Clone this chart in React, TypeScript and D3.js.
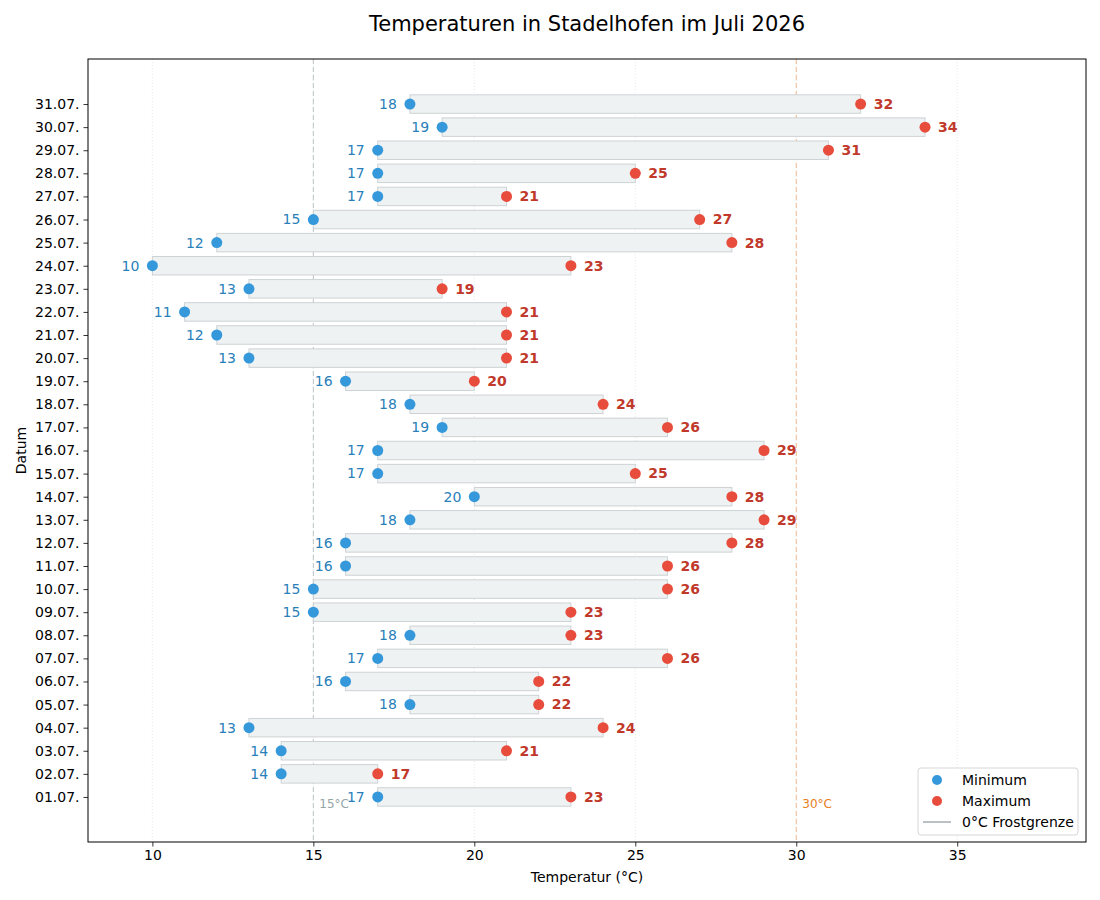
import { useEffect, useRef } from "react";
import * as d3 from "d3";

// Tageswerte Juli 2026, 01.07. bis 31.07.
const days = d3.range(1, 32).map((d) => `${String(d).padStart(2, "0")}.07.`);
const minTemps = [17, 14, 14, 13, 18, 16, 17, 18, 15, 15, 16, 16, 18, 20, 17, 17, 19, 18, 16, 13, 12, 11, 13, 10, 12, 15, 17, 17, 17, 19, 18];
const maxTemps = [23, 17, 21, 24, 22, 22, 26, 23, 23, 26, 26, 28, 29, 28, 25, 29, 26, 24, 20, 21, 21, 21, 19, 23, 28, 27, 21, 25, 31, 34, 32];
const xTicks = [10, 15, 20, 25, 30, 35];
const refLines = [
  { value: 15, label: "15°C", line: "#bdc3c7", text: "#95a5a6" },
  { value: 30, label: "30°C", line: "#f5b98a", text: "#e67e22" },
];
const legendItems = ["Minimum", "Maximum", "0°C Frostgrenze"];

const W = 1100;
const H = 900;
const margin = { top: 59, right: 14, bottom: 58, left: 88 };
const font = "DejaVu Sans, sans-serif";

export default function App() {
  const ref = useRef<SVGSVGElement>(null);

  useEffect(() => {
    const svg = d3.select(ref.current);
    svg.selectAll("*").remove();

    const width = W - margin.left - margin.right;
    const height = H - margin.top - margin.bottom;

    const x = d3.scaleLinear().domain([8, 39]).range([0, width]);
    const y = d3.scaleLinear().domain([-1.95, 31.95]).range([height, 0]);

    const g = svg
      .append("g")
      .attr("transform", `translate(${margin.left},${margin.top})`);

    // Grid
    g.selectAll(".grid")
      .data(xTicks)
      .enter()
      .append("line")
      .attr("x1", (d) => x(d))
      .attr("x2", (d) => x(d))
      .attr("y1", 0)
      .attr("y2", height)
      .attr("stroke", "#e3e3e3")
      .attr("stroke-width", 0.8)
      .attr("stroke-dasharray", "1,2");

    // Reference lines
    g.selectAll(".ref")
      .data(refLines)
      .enter()
      .append("line")
      .attr("x1", (d) => x(d.value))
      .attr("x2", (d) => x(d.value))
      .attr("y1", 0)
      .attr("y2", height)
      .attr("stroke", (d) => d.line)
      .attr("stroke-width", 1)
      .attr("stroke-dasharray", "5,3");

    g.selectAll(".ref-label")
      .data(refLines)
      .enter()
      .append("text")
      .attr("x", (d) => x(d.value) + 6)
      .attr("y", y(-0.3))
      .attr("dy", "0.35em")
      .attr("fill", (d) => d.text)
      .style("font-family", font)
      .style("font-size", "12px")
      .text((d) => d.label);

    const rows = days.map((day, i) => ({
      day,
      i,
      min: minTemps[i],
      max: maxTemps[i],
    }));
    const barH = Math.abs(y(0.4) - y(-0.4));

    // Range bars
    g.selectAll(".bar")
      .data(rows)
      .enter()
      .append("rect")
      .attr("x", (d) => x(d.min))
      .attr("width", (d) => x(d.max) - x(d.min))
      .attr("y", (d) => y(d.i) - barH / 2)
      .attr("height", barH)
      .attr("fill", "#eff2f3")
      .attr("stroke", "#cdd2d4")
      .attr("stroke-width", 1);

    // Min dots + labels
    g.selectAll(".min-dot")
      .data(rows)
      .enter()
      .append("circle")
      .attr("cx", (d) => x(d.min))
      .attr("cy", (d) => y(d.i))
      .attr("r", 5.5)
      .attr("fill", "#3498db");

    g.selectAll(".min-label")
      .data(rows)
      .enter()
      .append("text")
      .attr("x", (d) => x(d.min) - 13)
      .attr("y", (d) => y(d.i))
      .attr("dy", "0.35em")
      .attr("text-anchor", "end")
      .attr("fill", "#2980b9")
      .style("font-family", font)
      .style("font-size", "14px")
      .text((d) => d.min);

    // Max dots + labels
    g.selectAll(".max-dot")
      .data(rows)
      .enter()
      .append("circle")
      .attr("cx", (d) => x(d.max))
      .attr("cy", (d) => y(d.i))
      .attr("r", 5.5)
      .attr("fill", "#e74c3c");

    g.selectAll(".max-label")
      .data(rows)
      .enter()
      .append("text")
      .attr("x", (d) => x(d.max) + 13)
      .attr("y", (d) => y(d.i))
      .attr("dy", "0.35em")
      .attr("fill", "#c0392b")
      .style("font-family", font)
      .style("font-size", "14px")
      .style("font-weight", "bold")
      .text((d) => d.max);

    // Axes
    const xAxis = g
      .append("g")
      .attr("transform", `translate(0,${height})`)
      .call(d3.axisBottom(x).tickValues(xTicks).tickSize(4.5).tickPadding(4).tickFormat(d3.format("d")));
    const yAxis = g
      .append("g")
      .call(
        d3
          .axisLeft(y)
          .tickValues(d3.range(days.length))
          .tickSize(4.5)
          .tickPadding(4)
          .tickFormat((d) => days[d as number])
      );
    [xAxis, yAxis].forEach((a) => {
      a.select(".domain").remove();
      a.selectAll("line").attr("stroke", "#000").attr("stroke-width", 0.8);
      a.selectAll("text")
        .attr("fill", "#000")
        .style("font-family", font)
        .style("font-size", "14px");
    });

    // Frame
    g.append("rect")
      .attr("width", width)
      .attr("height", height)
      .attr("fill", "none")
      .attr("stroke", "#000")
      .attr("stroke-width", 1);

    // Titles
    svg
      .append("text")
      .attr("x", margin.left + width / 2)
      .attr("y", 31)
      .attr("text-anchor", "middle")
      .style("font-family", font)
      .style("font-size", "21px")
      .text("Temperaturen in Stadelhofen im Juli 2026");

    svg
      .append("text")
      .attr("x", margin.left + width / 2)
      .attr("y", 882)
      .attr("text-anchor", "middle")
      .style("font-family", font)
      .style("font-size", "14px")
      .text("Temperatur (°C)");

    svg
      .append("text")
      .attr("transform", `translate(26,${margin.top + height / 2}) rotate(-90)`)
      .attr("text-anchor", "middle")
      .style("font-family", font)
      .style("font-size", "14px")
      .text("Datum");

    // Legend
    const lg = svg.append("g").attr("transform", "translate(918,768)");
    lg.append("rect")
      .attr("width", 160)
      .attr("height", 67)
      .attr("rx", 3)
      .attr("fill", "#fff")
      .attr("fill-opacity", 0.8)
      .attr("stroke", "#d6d6d6");
    legendItems.forEach((label, i) => {
      const cy = 12 + i * 21;
      if (i < 2) {
        lg.append("circle")
          .attr("cx", 19)
          .attr("cy", cy)
          .attr("r", 5)
          .attr("fill", i === 0 ? "#3498db" : "#e74c3c");
      } else {
        lg.append("line")
          .attr("x1", 5)
          .attr("x2", 33)
          .attr("y1", cy)
          .attr("y2", cy)
          .attr("stroke", "#a3acb1")
          .attr("stroke-width", 1.5);
      }
      lg.append("text")
        .attr("x", 44)
        .attr("y", cy)
        .attr("dy", "0.35em")
        .style("font-family", font)
        .style("font-size", "14px")
        .text(label);
    });
  }, []);

  return (
    <svg
      ref={ref}
      width={W}
      height={H}
      style={{ position: "absolute", left: 0, top: 0, background: "#fff" }}
    />
  );
}
